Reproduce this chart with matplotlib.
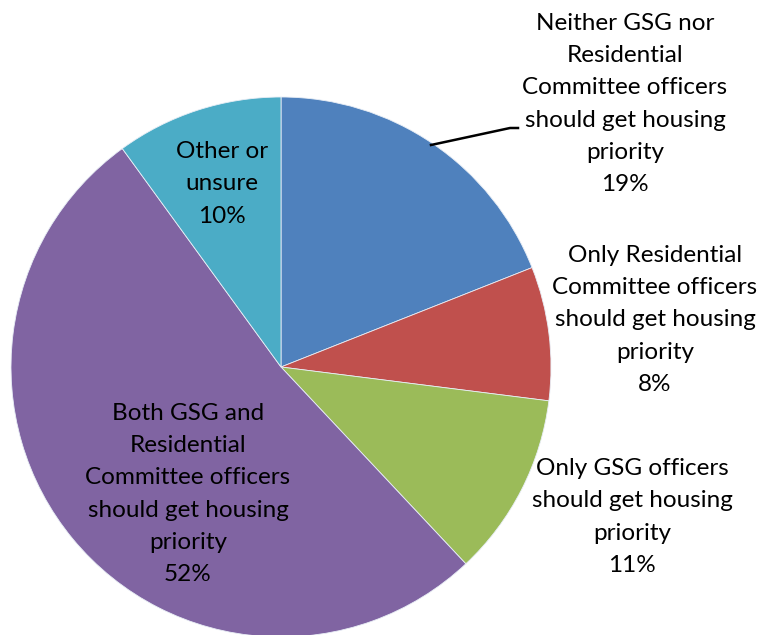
import numpy as np
import matplotlib.pyplot as plt

labels = ["Neither GSG nor\nResidential\nCommittee officers\nshould get housing\npriority",
          "Only Residential\nCommittee officers\nshould get housing\npriority",
          "Only GSG officers\nshould get housing\npriority",
          "Both GSG and\nResidential\nCommittee officers\nshould get housing\npriority",
          "Other or\nunsure"]
shares = [19, 8, 11, 52, 10]
colors = ["#4F81BD", "#C0504D", "#9BBB59", "#8064A2", "#4BACC6"]

# label centres in pixel coords (layout only)
label_pos = [(625, 104), (655, 320), (632, 517), (188, 494), (222, 184)]

fig = plt.figure(figsize=(7.62, 6.35), dpi=100)
ax = fig.add_axes([0, 0, 1, 1])
ax.pie(shares, colors=colors, startangle=-90, counterclock=True,
       center=(281, 367), radius=270,
       wedgeprops=dict(edgecolor="#E8EEF6", linewidth=0.6))
ax.set_xlim(0, 762)
ax.set_ylim(635, 0)
ax.set_aspect("equal")
ax.axis("off")

for lab, v, (x, y) in zip(labels, shares, label_pos):
    ax.text(x, y, "%s\n%d%%" % (lab, v), ha="center", va="center",
            fontsize=17.5, family="Lato", linespacing=1.66, color="black")

ax.plot([431, 510, 518], [145, 128, 128], color="black", lw=1.8)

plt.savefig("out.png", dpi=100)
